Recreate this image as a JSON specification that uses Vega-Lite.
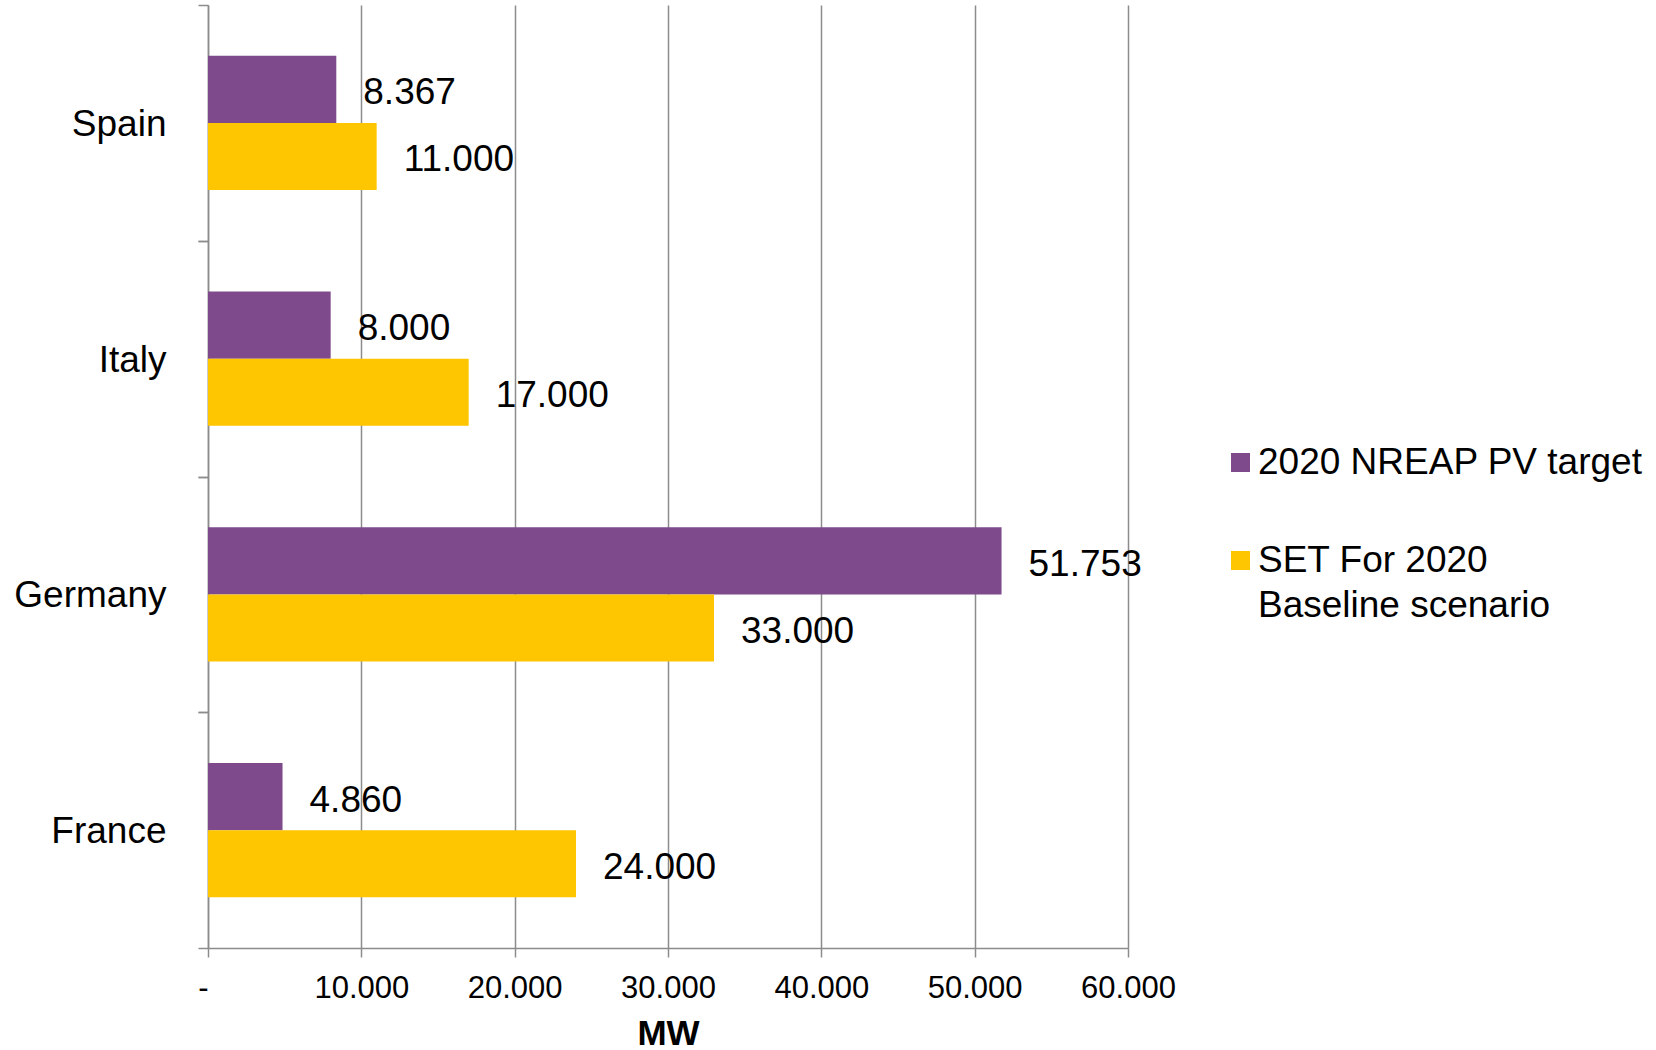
{
  "$schema": "https://vega.github.io/schema/vega-lite/v6.json",
  "autosize": "none",
  "width": 920,
  "height": 943,
  "padding": {"left": 208, "top": 5, "right": 528, "bottom": 102},
  "background": "white",
  "config": {
    "view": {"stroke": null},
    "font": "Liberation Sans"
  },
  "data": {
    "values": [
      {"country": "Spain", "series": "2020 NREAP PV target", "value": 8367},
      {"country": "Spain", "series": "SET For 2020 Baseline scenario", "value": 11000},
      {"country": "Italy", "series": "2020 NREAP PV target", "value": 8000},
      {"country": "Italy", "series": "SET For 2020 Baseline scenario", "value": 17000},
      {"country": "Germany", "series": "2020 NREAP PV target", "value": 51753},
      {"country": "Germany", "series": "SET For 2020 Baseline scenario", "value": 33000},
      {"country": "France", "series": "2020 NREAP PV target", "value": 4860},
      {"country": "France", "series": "SET For 2020 Baseline scenario", "value": 24000}
    ]
  },
  "resolve": {"axis": {"y": "independent"}},
  "layer": [
    {
      "mark": {"type": "bar"},
      "encoding": {
        "y": {
          "field": "country", "type": "nominal",
          "sort": ["Spain", "Italy", "Germany", "France"],
          "scale": {"paddingInner": 0.43, "paddingOuter": 0.215},
          "axis": {
            "orient": "left", "title": null, "ticks": false,
            "domainColor": "#8c8c8c", "domainWidth": 1.5,
            "labelFont": "Liberation Sans", "labelFontSize": 37, "labelColor": "#000000",
            "labelPadding": 42, "labelOffset": 2
          }
        },
        "yOffset": {"field": "series", "type": "nominal", "sort": ["2020 NREAP PV target", "SET For 2020 Baseline scenario"]},
        "x": {
          "field": "value", "type": "quantitative",
          "scale": {"domain": [0, 60000], "nice": false},
          "axis": {
            "values": [0, 10000, 20000, 30000, 40000, 50000, 60000],
            "labelExpr": "datum.value == 0 ? '-' : format(datum.value / 1000, '.3f')",
            "labelAlign": {"expr": "datum.value == 0 ? 'right' : 'center'"},
            "labelFlush": false, "labelOverlap": false,
            "grid": true, "gridColor": "#8c8c8c", "gridWidth": 1.5,
            "domainColor": "#8c8c8c", "domainWidth": 1.5,
            "tickColor": "#8c8c8c", "tickWidth": 1.5, "tickSize": 9,
            "labelFont": "Liberation Sans", "labelFontSize": 31, "labelColor": "#000000",
            "labelPadding": 16,
            "title": "MW", "titleFont": "Liberation Sans", "titleFontSize": 35,
            "titleFontWeight": "bold", "titleColor": "#000000", "titlePadding": 13
          }
        },
        "color": {
          "field": "series", "type": "nominal",
          "scale": {"domain": ["2020 NREAP PV target", "SET For 2020 Baseline scenario"], "range": ["#7E4A8C", "#FDC600"]},
          "legend": {
            "title": null, "orient": "none", "legendX": 1014, "legendY": 439,
            "padding": 0, "symbolType": "square", "symbolSize": 361,
            "symbolStrokeWidth": 0, "symbolOpacity": 1, "labelOffset": -1,
            "labelFont": "Liberation Sans", "labelFontSize": 37, "labelColor": "#000000",
            "labelLimit": 600, "rowPadding": 60,
            "labelExpr": "datum.label == 'SET For 2020 Baseline scenario' ? [' SET For 2020', 'Baseline scenario'] : datum.label",
            "encode": {"labels": {"update": {"lineHeight": {"value": 45}}}}
          }
        }
      }
    },
    {
      "transform": [{"calculate": "format(datum.value / 1000, '.3f')", "as": "label"}],
      "mark": {"type": "text", "align": "left", "baseline": "middle", "dx": 27, "dy": 4, "font": "Liberation Sans", "fontSize": 37, "color": "#000000"},
      "encoding": {
        "y": {"field": "country", "type": "nominal", "sort": ["Spain", "Italy", "Germany", "France"], "axis": null},
        "yOffset": {"field": "series", "type": "nominal", "sort": ["2020 NREAP PV target", "SET For 2020 Baseline scenario"]},
        "x": {"field": "value", "type": "quantitative"},
        "text": {"field": "label", "type": "nominal"}
      }
    },
    {
      "mark": {"type": "bar", "opacity": 0},
      "encoding": {
        "y": {
          "field": "country", "type": "nominal", "sort": ["Spain", "Italy", "Germany", "France"],
          "axis": {"orient": "left", "title": null, "labels": false, "domain": false, "grid": false,
                   "tickOffset": -117.875, "ticks": true, "tickSize": 10, "tickColor": "#8c8c8c", "tickWidth": 1.5}
        },
        "x": {"field": "value", "type": "quantitative"}
      }
    },
    {
      "mark": {"type": "bar", "opacity": 0},
      "encoding": {
        "y": {
          "field": "country", "type": "nominal", "sort": ["Spain", "Italy", "Germany", "France"],
          "axis": {"orient": "left", "title": null, "labels": false, "domain": false, "grid": false,
                   "tickOffset": 117.875, "ticks": true, "tickSize": 10, "tickColor": "#8c8c8c", "tickWidth": 1.5}
        },
        "x": {"field": "value", "type": "quantitative"}
      }
    }
  ]
}
